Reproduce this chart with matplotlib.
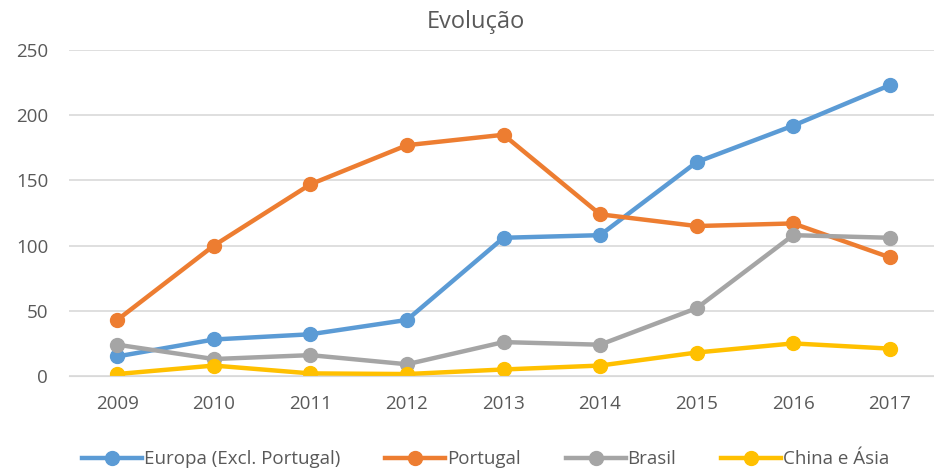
import matplotlib.pyplot as plt

anos = ["2009", "2010", "2011", "2012", "2013", "2014", "2015", "2016", "2017"]
europa = [15, 28, 32, 43, 106, 108, 164, 192, 223]
portugal = [43, 100, 147, 177, 185, 124, 115, 117, 91]
brasil = [24, 13, 16, 9, 26, 24, 52, 108, 106]
china = [1.5, 8, 2, 1.5, 5, 8, 18, 25, 21]

series = [
    ("Europa (Excl. Portugal)", europa, "#5B9BD5"),
    ("Portugal", portugal, "#ED7D31"),
    ("Brasil", brasil, "#A5A5A5"),
    ("China e Ásia", china, "#FFC000"),
]

plt.rcParams["font.family"] = ["Open Sans", "DejaVu Sans"]

fig = plt.figure(figsize=(9.34, 4.70), dpi=100)
ax = fig.add_axes([69 / 934, 0.2, 869 / 934, 0.6936])

x = range(len(anos))
for nome, vals, cor in series:
    ax.plot(x, vals, "-o", color=cor, lw=3.2, ms=10, label=nome)

ax.set_xlim(-0.5, len(anos) - 0.5)
ax.set_ylim(0, 250)
ax.set_yticks([0, 50, 100, 150, 200, 250])
ax.set_xticks(list(x))
ax.set_xticklabels(anos)
ax.grid(axis="y", color="#D9D9D9", lw=1.2)
ax.set_axisbelow(True)
for s in ["top", "right", "left"]:
    ax.spines[s].set_visible(False)
ax.spines["bottom"].set_color("#D9D9D9")
ax.tick_params(length=0, labelsize=13.5, colors="#595959")
ax.tick_params(axis="x", pad=14)
ax.tick_params(axis="y", pad=15)

fig.text(0.51, 0.953, "Evolução", ha="center", va="center", fontsize=17, color="#595959")

fig.legend(loc="center", bbox_to_anchor=(0.52, 0.023), ncol=4, frameon=False,
           fontsize=13.5, handlelength=3.2, handletextpad=0.1, columnspacing=2.4,
           labelcolor="#595959")

fig.savefig("out.png", dpi=100)
